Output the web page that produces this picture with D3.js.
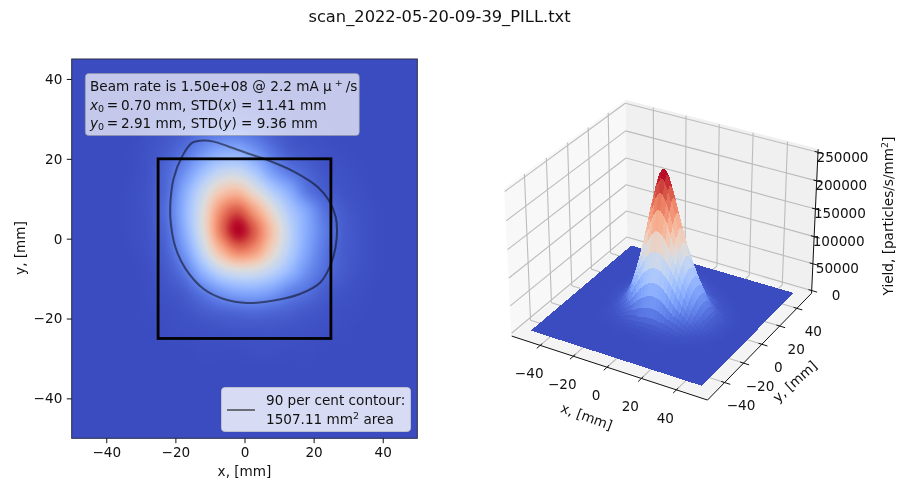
<!DOCTYPE html>
<html><head><meta charset="utf-8">
<script src="https://cdn.jsdelivr.net/npm/d3@7"></script>
<style>
html,body{margin:0;padding:0;background:#fff}
svg{display:block;filter:blur(.35px)}
text{font-family:"DejaVu Sans",sans-serif;fill:#111}
</style></head><body><svg id="c" width="904" height="482"></svg>
<script>
const title = "scan_2022-05-20-09-39_PILL.txt";
const xTicks = [-40,-20,0,20,40];
const yTicks = [-40,-20,0,20,40];
const zTicks = [0,50000,100000,150000,200000,250000];
const xGrid = [-50,-47,-42,-37,-32,-27,-22,-17,-12,-7,-2,3,8,13,18,23,28,33,38,43,48,50];
const yGrid = [50,47,42,37,32,27,22,17,12,7,2,-3,-8,-13,-18,-23,-28,-33,-38,-43,-48,-50];
// yield in thousands of particles/s/mm2, one row per yGrid entry
const yieldK = [
[0,0,0,0,0,0,0,0,0,0,0,0,0,0,0,0,0,0,0,0,0,0],
[0,0,0,0,0,0,0,0,0,0,0,0,0,0,0,0,0,0,0,0,0,0],
[0,0,0,0,0,0,0,0,0,0,0,0,0,0,0,0,0,0,0,0,0,0],
[0,0,0,0,0,0,0,1,2,3,3,2,1,0,0,0,0,0,0,0,0,0],
[0,0,0,0,0,1,3,5,7,9,10,7,4,2,1,0,0,0,0,0,0,0],
[0,0,0,0,0,3,6,11,20,24,25,19,10,5,2,1,0,0,0,0,0,0],
[0,0,0,0,1,5,11,23,42,57,60,44,24,10,6,3,1,0,0,0,0,0],
[0,0,0,0,1,6,18,42,75,100,105,83,48,26,14,6,3,1,0,0,0,0],
[0,0,0,0,2,7,21,62,107,148,160,128,91,60,26,11,5,2,0,0,0,0],
[0,0,0,0,2,7,25,70,125,193,222,183,132,87,55,24,10,4,1,0,0,0],
[0,0,0,0,2,6,21,65,125,205,250,218,158,100,60,30,12,5,1,0,0,0],
[0,0,0,0,1,5,16,50,105,165,203,188,140,94,55,26,11,5,1,0,0,0],
[0,0,0,0,0,3,10,29,69,104,121,119,100,72,41,21,10,4,1,0,0,0],
[0,0,0,0,0,2,5,12,29,48,60,62,52,34,23,11,5,2,0,0,0,0],
[0,0,0,0,0,1,2,5,10,15,18,20,17,13,8,5,2,1,0,0,0,0],
[0,0,0,0,0,0,1,2,3,4,5,5,5,4,3,2,1,0,0,0,0,0],
[0,0,0,0,0,0,0,0,1,1,1,2,2,1,1,0,0,0,0,0,0,0],
[0,0,0,0,0,0,0,0,0,0,0,0,0,0,0,0,0,0,0,0,0,0],
[0,0,0,0,0,0,0,0,0,0,0,0,0,0,0,0,0,0,0,0,0,0],
[0,0,0,0,0,0,0,0,0,0,0,0,0,0,0,0,0,0,0,0,0,0],
[0,0,0,0,0,0,0,0,0,0,0,0,0,0,0,0,0,0,0,0,0,0],
[0,0,0,0,0,0,0,0,0,0,0,0,0,0,0,0,0,0,0,0,0,0]];
const contourX = [-11.6,-15.2,-18.1,-20.5,-21.4,-21.4,-20,-17.1,-11.8,-6,.8,8.5,16.2,22,25.4,26.7,26.4,24.4,21.1,14.3,6.6,.8,-5,-8.9];
const contourY = [24.6,24,20.5,15.1,9.6,4.6,-2.1,-7.5,-12.6,-15.1,-16.1,-15.5,-13.8,-10.9,-5.4,.4,5.4,9.6,13,16.8,19.7,21.4,23.2,24.3];
const boxX = [-25,25];
const boxY = [-25,20];
const coolwarmPos = [0,.1,.2,.3,.4,.5,.6,.7,.8,.9,1];
const coolwarmCol = ["#3b4cc0","#5977e3","#7b9ff9","#9ebeff","#c0d4f5","#dddcdc","#f2cbb7","#f7ac8e","#ee8468","#d65244","#b40426"];
const infoLines = [
 [["Beam rate is 1.50e+08 @ 2.2 mA μ"],[" + ","sup"],["/s"]],
 [["x","it"],["0","sub"],[" = 0.70 mm, STD(","tight"],["x","it"],[") = 11.41 mm"]],
 [["y","it"],["0","sub"],[" = 2.91 mm, STD(","tight"],["y","it"],[") = 9.36 mm"]]];
const legendLines = [[["90 per cent contour:"]],[["1507.11 mm"],["2","sup"],[" area"]]];

const svg = d3.select("#c");
const fs = 13.6;
function rich(g, x, y, segs, size){
  const t = g.append("text").attr("x",x).attr("y",y).attr("font-size",size).attr("xml:space","preserve").style("white-space","pre");
  let pending = 0;
  segs.forEach(([s,k])=>{
    const sp = t.append("tspan").text(s);
    let dy = pending; pending = 0;
    if(k==="it") sp.attr("font-style","italic");
    if(k==="sub"){dy+=size*.15; pending=-size*.15; sp.attr("font-size",size*.7);}
    if(k==="sup"){dy-=size*.36; pending=size*.36; sp.attr("font-size",size*.7);}
    if(k==="tight"){sp.text(s.replace(" = ","\u2009=\u2009"));}
    if(dy) sp.attr("dy",dy);
  });
  return t;
}
svg.append("text").attr("x",439.5).attr("y",21.5).attr("text-anchor","middle").attr("font-size",16.3).text(title);

// ---------- left panel
const L = {l:71.7,r:417.3,t:59,b:438.3};
const x = d3.scaleLinear([-50,50],[L.l,L.r]);
const y = d3.scaleLinear([-50,45],[L.b,L.t]);
const cm = d3.scaleLinear().domain(coolwarmPos).range(coolwarmCol).interpolate(d3.interpolateRgb).clamp(true);
const xIdx = d3.scaleLinear().domain(xGrid).range(d3.range(xGrid.length));
const yIdx = d3.scaleLinear().domain(yGrid).range(d3.range(yGrid.length));
const nx=xGrid.length, ny=yGrid.length;
const val=(i,j)=>yieldK[Math.max(0,Math.min(ny-1,j))][Math.max(0,Math.min(nx-1,i))];
const cr=(a,b,c,d,t)=>b+.5*t*(c-a+t*(2*a-5*b+4*c-d+t*(3*(b-c)+d-a)));
function sample(fx,fy){
  const i=Math.floor(fx), j=Math.floor(fy), tx=fx-i, ty=fy-j, r=[];
  for(let m=-1;m<=2;m++) r.push(cr(val(i-1,j+m),val(i,j+m),val(i+1,j+m),val(i+2,j+m),tx));
  return Math.max(0,cr(r[0],r[1],r[2],r[3],ty));
}
const maxK = d3.max(yieldK.flat());
const W=Math.round(L.r-L.l), H=Math.round(L.b-L.t);
const cv=document.createElement("canvas"); cv.width=W; cv.height=H;
const ctx=cv.getContext("2d"); const im=ctx.createImageData(W,H);
for(let py=0;py<H;py++)for(let px=0;px<W;px++){
  const dx=x.invert(L.l+px+.5), dy=y.invert(L.t+py+.5);
  const v=sample(xIdx(dx),yIdx(dy));
  const c=d3.rgb(cm(v/maxK));
  const o=(py*W+px)*4; im.data[o]=c.r;im.data[o+1]=c.g;im.data[o+2]=c.b;im.data[o+3]=255;
}
ctx.putImageData(im,0,0);
const left=svg.append("g");
left.append("image").attr("x",L.l).attr("y",L.t).attr("width",L.r-L.l).attr("height",L.b-L.t)
  .attr("preserveAspectRatio","none").attr("href",cv.toDataURL());
left.append("rect").attr("x",x(boxX[0])).attr("y",y(boxY[1])).attr("width",x(boxX[1])-x(boxX[0])).attr("height",y(boxY[0])-y(boxY[1]))
  .attr("fill","none").attr("stroke","#000").attr("stroke-width",2.8);
left.append("path").attr("d",d3.line().x(d=>x(d[0])).y(d=>y(d[1])).curve(d3.curveCatmullRomClosed)(d3.zip(contourX,contourY)))
  .attr("fill","none").attr("stroke","#000").attr("stroke-opacity",.5).attr("stroke-width",2);
left.append("rect").attr("x",L.l).attr("y",L.t).attr("width",L.r-L.l).attr("height",L.b-L.t).attr("fill","none").attr("stroke","#2b2f45").attr("stroke-width",1);
const ax=left.append("g").attr("transform",`translate(0,${L.b})`).call(d3.axisBottom(x).tickValues(xTicks).tickSize(4.9).tickPadding(4.5));
const ay=left.append("g").attr("transform",`translate(${L.l},0)`).call(d3.axisLeft(y).tickValues(yTicks).tickSize(4.9).tickPadding(4.5));
[ax,ay].forEach(a=>{a.select(".domain").remove();a.selectAll("line").attr("stroke","#111");a.selectAll("text").attr("font-size",fs).attr("font-family",null).style("font-family",'"DejaVu Sans"');});
left.append("text").attr("x",244.5).attr("y",476).attr("text-anchor","middle").attr("font-size",fs).text("x, [mm]");
left.append("text").attr("transform","translate(25,248) rotate(-90)").attr("text-anchor","middle").attr("font-size",fs).text("y, [mm]");
left.append("rect").attr("x",85.3).attr("y",73.5).attr("width",274).attr("height",62).attr("rx",3.5)
  .attr("fill","#fff").attr("fill-opacity",.7).attr("stroke","#999").attr("stroke-opacity",.6);
infoLines.forEach((s,i)=>rich(left,90,[91,110,128][i],s,fs));
left.append("rect").attr("x",221.5).attr("y",387.5).attr("width",189).attr("height",44).attr("rx",3.5)
  .attr("fill","#fff").attr("fill-opacity",.8).attr("stroke","#ccc").attr("stroke-opacity",.8);
left.append("line").attr("x1",227).attr("x2",255).attr("y1",410).attr("y2",410).attr("stroke","#000").attr("stroke-opacity",.5).attr("stroke-width",2);
legendLines.forEach((s,i)=>rich(left,266,[404.5,424][i],s,fs));

// ---------- right panel : mplot3d style projection
const LIM=57.5, zLim=[-5200,255200];
const wx=d3.scaleLinear([-LIM,LIM],[-.595,.595]);
const wy=d3.scaleLinear([-LIM,LIM],[-.595,.595]);
const wz=d3.scaleLinear(zLim,[-.4465,.4465]);
const sc=d3.scaleLinear([-1,1],[664.4-1885,664.4+1885]);
const sv=d3.scaleLinear([-1,1],[243+1885,243-1885]);
const el=30*Math.PI/180, az=-60*Math.PI/180, dist=10;
const W3=[Math.cos(el)*Math.cos(az),Math.cos(el)*Math.sin(az),Math.sin(el)];
const U3=[.8660254,.5,0];
const V3=[W3[1]*U3[2]-W3[2]*U3[1],W3[2]*U3[0]-W3[0]*U3[2],W3[0]*U3[1]-W3[1]*U3[0]];
const dot=(a,b)=>a[0]*b[0]+a[1]*b[1]+a[2]*b[2];
function P(a,b,c){
  const p=[wx(a),wy(b),wz(c)], d=dist-dot(p,W3);
  return [sc(dot(p,U3)/d),sv(dot(p,V3)/d),d];
}
const path=pts=>"M"+pts.map(p=>p[0].toFixed(2)+","+p[1].toFixed(2)).join("L")+"Z";
const zb=zLim[0], zt=zLim[1];
const r3=svg.append("g");
const pane=(pts,c)=>r3.append("path").attr("d",path(pts)).attr("fill",c).attr("stroke",c).attr("stroke-width",1);
pane([P(-LIM,LIM,zb),P(LIM,LIM,zb),P(LIM,LIM,zt),P(-LIM,LIM,zt)],"#f0f0f0");
pane([P(-LIM,-LIM,zb),P(-LIM,LIM,zb),P(-LIM,LIM,zt),P(-LIM,-LIM,zt)],"#f8f8f8");
pane([P(-LIM,-LIM,zb),P(LIM,-LIM,zb),P(LIM,LIM,zb),P(-LIM,LIM,zb)],"#f4f4f4");
const seg=(a,b,stroke,w)=>r3.append("line").attr("x1",a[0]).attr("y1",a[1]).attr("x2",b[0]).attr("y2",b[1]).attr("stroke",stroke).attr("stroke-width",w);
const gc="#bcbcbc", gw=1.1;
xTicks.forEach(t=>{seg(P(t,-LIM,zb),P(t,LIM,zb),gc,gw);seg(P(t,LIM,zb),P(t,LIM,zt),gc,gw);});
yTicks.forEach(t=>{seg(P(LIM,t,zb),P(-LIM,t,zb),gc,gw);seg(P(-LIM,t,zb),P(-LIM,t,zt),gc,gw);});
zTicks.forEach(t=>{seg(P(LIM,LIM,t),P(-LIM,LIM,t),gc,gw);seg(P(-LIM,LIM,t),P(-LIM,-LIM,t),gc,gw);});
seg(P(-LIM,-LIM,zb),P(LIM,-LIM,zb),"#111",1);
seg(P(LIM,-LIM,zb),P(LIM,LIM,zb),"#111",1);
seg(P(LIM,LIM,zb),P(LIM,LIM,zt),"#111",1);
const tk=3.2;
xTicks.forEach(t=>{seg(P(t,-LIM+tk*.6,zb),P(t,-LIM-tk,zb),"#111",1);
  const q=P(t,-LIM,zb); r3.append("text").attr("x",q[0]-11).attr("y",q[1]+33).attr("text-anchor","middle").attr("font-size",fs).text(d3.format("")(t));});
yTicks.forEach(t=>{seg(P(LIM-tk*.6,t,zb),P(LIM+tk,t,zb),"#111",1);
  const q=P(LIM,t,zb); r3.append("text").attr("x",q[0]+16.5).attr("y",q[1]+27.5).attr("text-anchor","middle").attr("font-size",fs).text(d3.format("")(t));});
zTicks.forEach(t=>{seg(P(LIM-tk*.6,LIM,t),P(LIM+tk,LIM,t),"#111",1);
  const q=P(LIM,LIM,t); r3.append("text").attr("x",q[0]+24.5).attr("y",q[1]+9.5).attr("text-anchor","middle").attr("font-size",fs).text(t);});
// surface: flat facets on a fine display mesh resampled from the typed grid, painted far to near
const meshX=d3.range(-50,50.01,2), meshY=d3.range(50,-50.01,-2);
const at=(a,b)=>{const fx=xIdx(a),fy=yIdx(b),v=sample(fx,fy);return {v,p:P(a,b,v*1000)};};
const meshPts=meshY.map(b=>meshX.map(a=>at(a,b)));
const facets=[];
for(let j=0;j<meshY.length-1;j++)for(let i=0;i<meshX.length-1;i++){
  const c=[meshPts[j][i],meshPts[j][i+1],meshPts[j+1][i+1],meshPts[j+1][i]];
  facets.push({pts:c.map(q=>q.p),v:d3.mean(c,q=>q.v),d:d3.mean(c,q=>q.p[2])});
}
const vmax=d3.max(facets,f=>f.v);
facets.sort((a,b)=>b.d-a.d);
r3.append("g").selectAll("path").data(facets).join("path").attr("d",f=>path(f.pts))
  .attr("fill",f=>cm(f.v/vmax)).attr("stroke",f=>cm(f.v/vmax)).attr("stroke-width",1).attr("stroke-linejoin","round").attr("shape-rendering","crispEdges");
r3.append("text").attr("transform","translate(585,421) rotate(20)").attr("text-anchor","middle").attr("font-size",fs).text("x, [mm]");
r3.append("text").attr("transform","translate(798,385) rotate(-42)").attr("text-anchor","middle").attr("font-size",fs).text("y, [mm]");
rich(r3,0,0,[["Yield, [particles/s/mm"],["2","sup"],["]"]],fs).attr("transform","translate(893,216) rotate(-90)").attr("text-anchor","middle");
</script></body></html>
